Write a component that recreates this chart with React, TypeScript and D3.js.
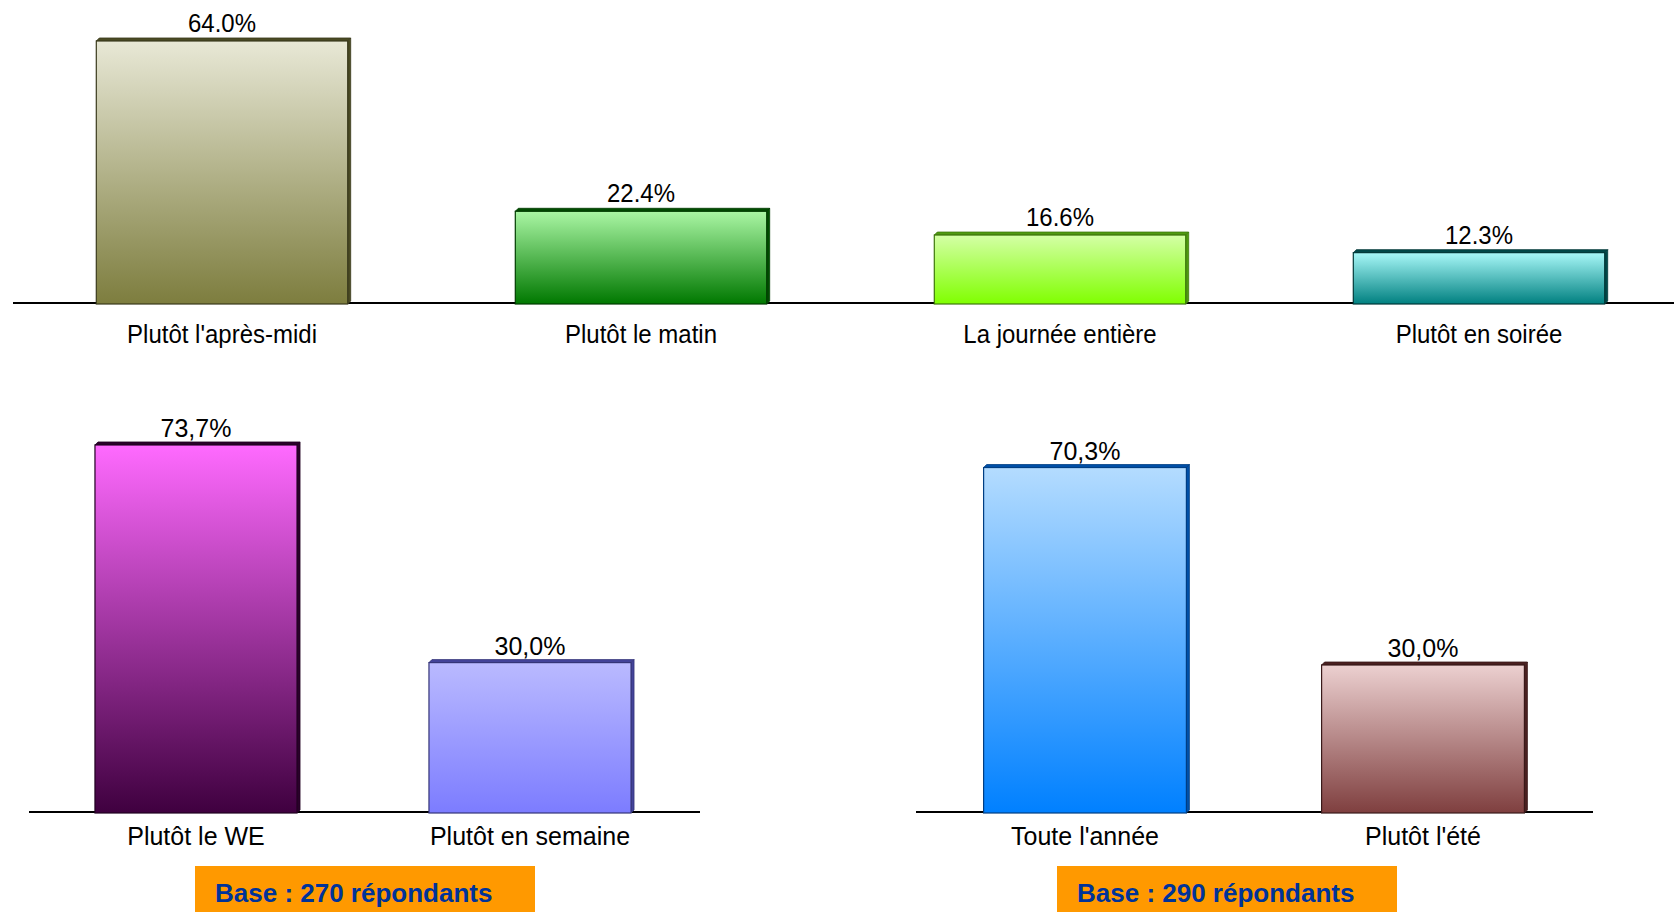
import React from "react";
import * as d3 from "d3";

const topCategories = ["Plutôt l'après-midi", "Plutôt le matin", "La journée entière", "Plutôt en soirée"];
const topValues = [64.0, 22.4, 16.6, 12.3];
const topLabels = ["64.0%", "22.4%", "16.6%", "12.3%"];

const weekCategories = ["Plutôt le WE", "Plutôt en semaine"];
const weekValues = [73.7, 30.0];
const weekLabels = ["73,7%", "30,0%"];

const seasonCategories = ["Toute l'année", "Plutôt l'été"];
const seasonValues = [70.3, 30.0];
const seasonLabels = ["70,3%", "30,0%"];

const baseTexts = ["Base : 270 répondants", "Base : 290 répondants"];

type Pal = { top: string; bottom: string; side: string };
const topPalettes: Pal[] = [
  { top: "#e8e8d6", bottom: "#7d7d3e", side: "#4a4a24" },
  { top: "#aaf6a4", bottom: "#007800", side: "#004d00" },
  { top: "#d4ffa6", bottom: "#80ff00", side: "#4f9a10" },
  { top: "#a8f8f8", bottom: "#008080", side: "#004848" },
];
const weekPalettes: Pal[] = [
  { top: "#ff6aff", bottom: "#3f003f", side: "#2a002a" },
  { top: "#babaff", bottom: "#7c7cff", side: "#44449a" },
];
const seasonPalettes: Pal[] = [
  { top: "#b4dcff", bottom: "#0080ff", side: "#0050a8" },
  { top: "#ecd0d0", bottom: "#7f3f3f", side: "#4a2020" },
];

const FONT = "'Liberation Sans', Arial, sans-serif";

type ChartProps = {
  id: string;
  cats: string[];
  vals: number[];
  labels: string[];
  pals: Pal[];
  x0: number;
  x1: number;
  axisX0: number;
  axisX1: number;
  baseY: number;
  pxPerUnit: number;
  padding: number;
  valueFont: number;
  catFont: number;
  valueGap: number;
  catBaseline: number;
  stretch: number;
};

function BarChart(p: ChartProps) {
  const x = d3.scaleBand<string>().domain(p.cats).range([p.x0, p.x1]).paddingInner(p.padding).paddingOuter(p.padding / 2);
  const y = d3.scaleLinear().domain([0, 80]).range([p.baseY, p.baseY - 80 * p.pxPerUnit]);
  const d = 3;
  return (
    <g>
      <defs>
        {p.pals.map((pal, i) => (
          <linearGradient key={i} id={`${p.id}-g${i}`} x1="0" y1="0" x2="0" y2="1">
            <stop offset="0%" stopColor={pal.top} />
            <stop offset="100%" stopColor={pal.bottom} />
          </linearGradient>
        ))}
      </defs>
      <line x1={p.axisX0} x2={p.axisX1} y1={p.baseY} y2={p.baseY} stroke="#000" strokeWidth={2} />
      {p.cats.map((c, i) => {
        const bx = x(c)!;
        const bw = x.bandwidth();
        const top = y(p.vals[i]);
        const bot = y(0) + 1;
        const pal = p.pals[i];
        const edge = d3.color(pal.side)!.darker(0.7).formatHex();
        const cx = bx + bw / 2;
        return (
          <g key={c}>
            <polygon
              points={`${bx},${top} ${bx + d},${top - d} ${bx + bw + d},${top - d} ${bx + bw},${top}`}
              fill={pal.side}
              stroke={edge}
              strokeWidth={0.8}
            />
            <polygon
              points={`${bx + bw},${top} ${bx + bw + d},${top - d} ${bx + bw + d},${bot - d} ${bx + bw},${bot}`}
              fill={pal.side}
              stroke={edge}
              strokeWidth={0.8}
            />
            <rect x={bx} y={top} width={bw} height={bot - top} fill={`url(#${p.id}-g${i})`} stroke={edge} strokeWidth={1.2} />
            <text
              transform={`translate(${cx},${top - p.valueGap}) scale(1,${p.stretch})`}
              textAnchor="middle"
              fontFamily={FONT}
              fontSize={p.valueFont}
              fill="#000"
            >
              {p.labels[i]}
            </text>
            <text
              transform={`translate(${cx},${p.catBaseline}) scale(1,${p.stretch})`}
              textAnchor="middle"
              fontFamily={FONT}
              fontSize={p.catFont}
              fill="#000"
            >
              {c}
            </text>
          </g>
        );
      })}
    </g>
  );
}

export default function App() {
  return (
    <div style={{ position: "absolute", left: 0, top: 0, width: 1674, height: 912, overflow: "hidden", background: "#fff" }}>
      <svg width={1674} height={912} style={{ display: "block" }}>
        <rect width={1674} height={912} fill="#fff" />
        <BarChart
          id="top"
          cats={topCategories}
          vals={topValues}
          labels={topLabels}
          pals={topPalettes}
          x0={12.5}
          x1={12.5 + 4 * 419}
          axisX0={13}
          axisX1={1674}
          baseY={303}
          pxPerUnit={4.094}
          padding={0.4}
          valueFont={24}
          catFont={24}
          valueGap={9}
          catBaseline={343}
          stretch={1.1}
        />
        <BarChart
          id="week"
          cats={weekCategories}
          vals={weekValues}
          labels={weekLabels}
          pals={weekPalettes}
          x0={29}
          x1={29 + 2 * 334}
          axisX0={29}
          axisX1={700}
          baseY={812}
          pxPerUnit={4.98}
          padding={0.395}
          valueFont={25}
          catFont={25}
          valueGap={8}
          catBaseline={845}
          stretch={1}
        />
        <BarChart
          id="season"
          cats={seasonCategories}
          vals={seasonValues}
          labels={seasonLabels}
          pals={seasonPalettes}
          x0={916}
          x1={916 + 2 * 338}
          axisX0={916}
          axisX1={1593}
          baseY={812}
          pxPerUnit={4.9}
          padding={0.4}
          valueFont={25}
          catFont={25}
          valueGap={8}
          catBaseline={845}
          stretch={1}
        />
        {[195, 1057].map((bx, i) => (
          <g key={i}>
            <rect x={bx} y={866} width={340} height={50} fill="#ff9900" />
            <text x={bx + 20} y={902} fontFamily={FONT} fontWeight="bold" fontSize={26} fill="#003399">
              {baseTexts[i]}
            </text>
          </g>
        ))}
      </svg>
    </div>
  );
}
